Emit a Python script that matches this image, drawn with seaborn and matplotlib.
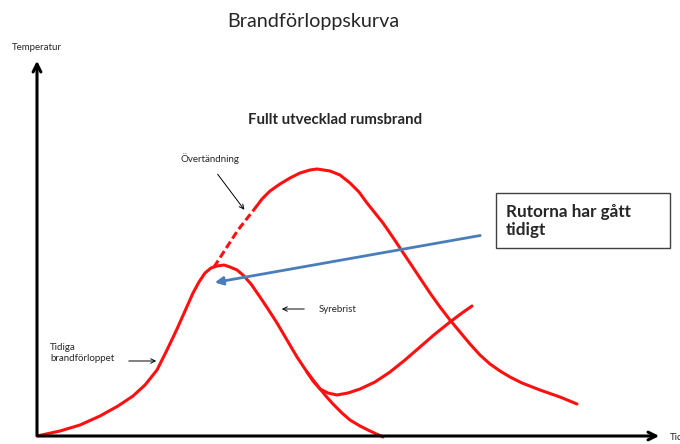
import matplotlib
matplotlib.use("Agg")
import matplotlib.pyplot as plt
import matplotlib.patches as patches
import seaborn as sns

sns.set_style("white")
plt.rcParams['font.family'] = ['Lato', 'DejaVu Sans']

# curves (x = time, y = temperature, picture coords)
early_x = [37, 60, 80, 100, 118, 133, 145, 157, 167, 177, 185, 193, 199, 205, 211, 217, 224,
           230, 237, 243, 251, 260, 268, 277, 287, 297, 307, 317, 325, 333, 342, 350, 360, 370, 383]
early_y = [436, 431, 425, 416, 406, 396, 385, 370, 350, 329, 311, 293, 282, 273, 268, 266, 265,
           267, 270, 275, 284, 297, 309, 323, 340, 357, 372, 385, 395, 404, 413, 420, 426, 431, 437]

flash_x = [214, 225, 238, 256]
flash_y = [267, 250, 230, 207]

full_x = [256, 262, 270, 280, 290, 300, 310, 317, 330, 340, 350, 359, 367, 375, 383, 392, 400,
          410, 420, 430, 440, 450, 460, 470, 480, 490, 500, 510, 522, 540, 560, 577]
full_y = [207, 199, 191, 184, 178, 173, 170, 169, 171, 175, 183, 192, 203, 213, 223, 236, 248,
          263, 278, 293, 307, 320, 332, 344, 355, 364, 371, 377, 383, 390, 397, 404]

vent_x = [307, 313, 320, 328, 337, 348, 360, 375, 390, 405, 420, 435, 450, 462, 472]
vent_y = [372, 381, 389, 393, 395, 393, 389, 382, 372, 360, 347, 334, 322, 313, 306]

fig = plt.figure(figsize=(6.8, 4.44), dpi=100)
ax = fig.add_axes([0, 0, 1, 1])
ax.set_xlim(0, 680)
ax.set_ylim(444, 0)
ax.axis("off")

red = "#ff1010"
kw = dict(sort=False, estimator=None, color=red, lw=2.2, ax=ax,
          solid_joinstyle="round", solid_capstyle="round")
sns.lineplot(x=early_x, y=early_y, **kw)
sns.lineplot(x=full_x, y=full_y, **kw)
sns.lineplot(x=vent_x, y=vent_y, **kw)
sns.lineplot(x=flash_x, y=flash_y, sort=False, estimator=None, color=red, lw=2.2, ax=ax,
             linestyle=(0, (2.5, 1.2)))

# axes arrows
ax.annotate("", xy=(37, 58), xytext=(37, 438),
            arrowprops=dict(arrowstyle="->", lw=2.2, color="black", mutation_scale=14))
ax.annotate("", xy=(662, 436), xytext=(35, 436),
            arrowprops=dict(arrowstyle="->", lw=2.2, color="black", mutation_scale=14))
ax.text(37, 47, "Temperatur", fontsize=7, ha="center", va="center")
ax.text(670, 437, "Tid", fontsize=7, ha="left", va="center")

ax.text(313, 22, "Brandförloppskurva", fontsize=14.2, ha="center", va="center")
ax.text(335, 120, "Fullt utvecklad rumsbrand", fontsize=10.8, fontweight="bold",
        ha="center", va="center")

# small annotations
ax.text(210, 159, "Övertändning", fontsize=7, ha="center", va="center")
ax.annotate("", xy=(246, 212), xytext=(216, 172),
            arrowprops=dict(arrowstyle="->", lw=0.7, color="black", mutation_scale=8))
ax.text(319, 309, "Syrebrist", fontsize=7, ha="left", va="center")
ax.annotate("", xy=(279, 309), xytext=(307, 309),
            arrowprops=dict(arrowstyle="->", lw=0.7, color="black", mutation_scale=8))
ax.text(50, 353, "Tidiga\nbrandförloppet", fontsize=7, ha="left", va="center",
        linespacing=1.3)
ax.annotate("", xy=(159, 361), xytext=(126, 361),
            arrowprops=dict(arrowstyle="->", lw=0.7, color="black", mutation_scale=8))

# blue arrow and box
ax.annotate("", xy=(212, 283), xytext=(483, 235),
            arrowprops=dict(arrowstyle="-|>", lw=2, color="#4a7ebb", mutation_scale=12))
ax.add_patch(patches.Rectangle((496, 193), 174, 55, fill=False, edgecolor="#404040", lw=1))
ax.text(506, 221, "Rutorna har gått\ntidigt", fontsize=12.3, fontweight="bold",
        ha="left", va="center", linespacing=1.2)

fig.savefig("out.png", dpi=100)
